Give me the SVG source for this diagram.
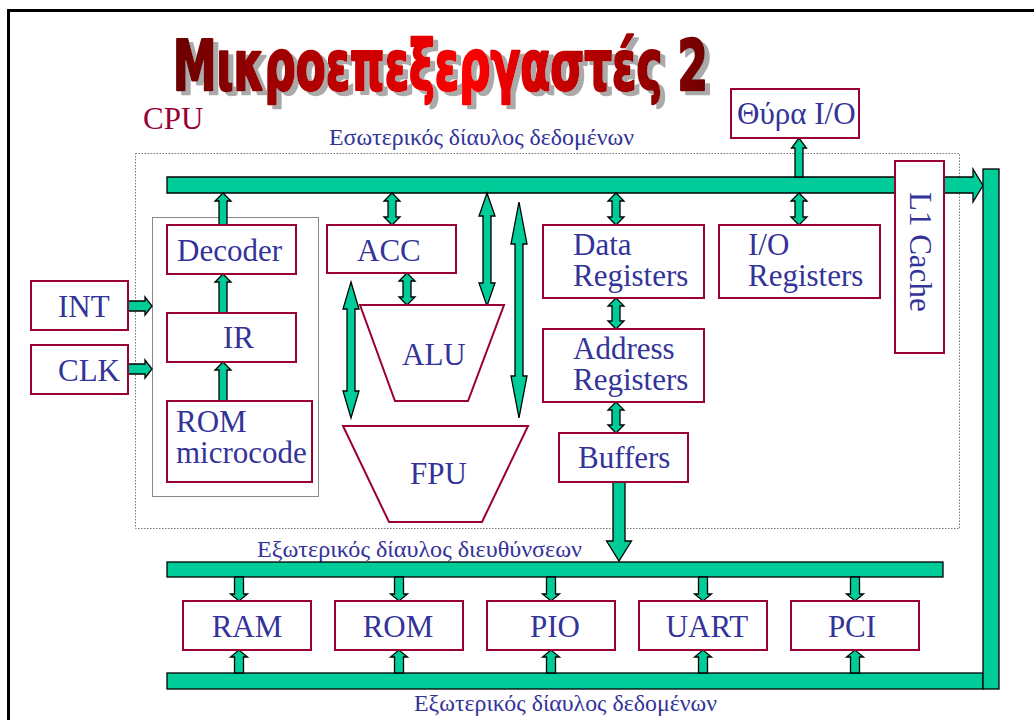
<svg xmlns="http://www.w3.org/2000/svg" width="1034" height="720" viewBox="0 0 1034 720">
  <defs>
    <linearGradient id="titleGrad" gradientUnits="userSpaceOnUse" x1="0" y1="0" x2="747" y2="0">
      <stop offset="0" stop-color="#6a0000"/>
      <stop offset="0.55" stop-color="#ff0000"/>
      <stop offset="1" stop-color="#700000"/>
    </linearGradient>
    <filter id="dropShadow" x="-5%" y="-20%" width="115%" height="150%">
      <feOffset in="SourceAlpha" dx="5" dy="4" result="off"/>
      <feFlood flood-color="#aaaaaa"/>
      <feComposite in2="off" operator="in" result="shadow"/>
      <feMerge>
        <feMergeNode in="shadow"/>
        <feMergeNode in="SourceGraphic"/>
      </feMerge>
    </filter>
    <style>
      .frame { fill: none; stroke: #000; stroke-width: 3; }
      .box { fill: #fff; stroke: #990033; stroke-width: 2; }
      .grp { fill: none; stroke: #888; stroke-width: 1; }
      .cpu { fill: none; stroke: #777; stroke-width: 1; stroke-dasharray: 1.5 1.5; }
      .bus, .arr { fill: #00cc99; stroke: #000; stroke-width: 1.3; stroke-linejoin: miter; }
      .lbl { font-family: "Liberation Serif", "Times New Roman", serif; font-size: 31px; fill: #333399; }
      .bl { font-family: "Liberation Serif", "Times New Roman", serif; font-size: 23px; fill: #333399; }
      .cpuTxt { font-family: "Liberation Serif", "Times New Roman", serif; font-size: 31px; fill: #990033; }
      .title { font-family: "DejaVu Sans Condensed", "Liberation Sans Narrow", "Liberation Sans", sans-serif; font-weight: bold; font-size: 69px; fill: url(#titleGrad); stroke: url(#titleGrad); stroke-width: 2.5; stroke-linejoin: round; }
    </style>
  </defs>

  <rect width="1034" height="720" fill="#fff"/>
  <rect class="frame" x="8.5" y="10.5" width="1040" height="730"/>

  <!-- heading: condensed bold type squeezed horizontally, with a grey drop shadow -->
  <g id="title" filter="url(#dropShadow)">
    <text class="title" transform="translate(173,90) scale(0.716,1)" x="0" y="0" textLength="747" lengthAdjust="spacingAndGlyphs">Μικροεπεξεργαστές 2</text>
  </g>

  <!-- processor outline and control-unit group -->
  <g id="cpu">
    <rect class="cpu" x="135.5" y="153.5" width="824" height="375"/>
    <text class="cpuTxt" x="143" y="129">CPU</text>
  </g>
  <rect id="control-unit" class="grp" x="152.5" y="217.5" width="166" height="279"/>

  <!-- bus labels -->
  <g id="bus-labels">
    <text class="bl" x="329" y="145" textLength="305" lengthAdjust="spacingAndGlyphs">Εσωτερικός δίαυλος δεδομένων</text>
    <text class="bl" x="257" y="557" textLength="325" lengthAdjust="spacingAndGlyphs">Εξωτερικός δίαυλος διευθύνσεων</text>
    <text class="bl" x="414" y="711" textLength="303" lengthAdjust="spacingAndGlyphs">Εξωτερικός δίαυλος δεδομένων</text>
  </g>

  <!-- buses and arrows -->
  <g id="connectors">
    <!-- internal data bus -->
    <polygon class="bus" points="167,177 973,177 973,169 983,185.5 973,202 973,193 167,193"/>
    <!-- external address bus -->
    <rect class="bus" x="167" y="562" width="776" height="15"/>
    <!-- external data bus with riser -->
    <rect class="bus" x="167" y="673" width="816" height="16"/>
    <rect class="bus" x="983" y="169" width="16" height="520"/>

    <!-- control unit -->
    <polygon class="arr" points="219,225 219,201 215,201 223,193 231,201 227,201 227,225"/>
    <polygon class="arr" points="219,313 219,282 215,282 223,274 231,282 227,282 227,313"/>
    <polygon class="arr" points="219,401 219,370 215,370 223,362 231,370 227,370 227,401"/>
    <!-- INT / CLK inputs -->
    <polygon class="arr" points="128,301 145,301 145,297 152,306 145,315 145,311 128,311"/>
    <polygon class="arr" points="128,364 145,364 145,360 152,369 145,378 145,374 128,374"/>

    <!-- ACC / ALU / FPU -->
    <polygon class="arr" points="392,193 400,201 396,201 396,217 400,217 392,225 384,217 388,217 388,201 384,201"/>
    <polygon class="arr" points="407,273 415,281 411,281 411,297 415,297 407,305 399,297 403,297 403,281 399,281"/>
    <polygon class="arr" points="487,193 495,216 491,216 491,283 495,283 487,306 479,283 483,283 483,216 479,216"/>
    <polygon class="arr" points="351,282 359,309 355,309 355,391 359,391 351,418 343,391 347,391 347,309 343,309"/>
    <polygon class="arr" points="519,202 527,244 523,244 523,376 527,376 519,418 511,376 515,376 515,244 511,244"/>

    <!-- register column -->
    <polygon class="arr" points="616,193 624,201 620,201 620,217 624,217 616,225 608,217 612,217 612,201 608,201"/>
    <polygon class="arr" points="616,298 624,306 620,306 620,321 624,321 616,329 608,321 612,321 612,306 608,306"/>
    <polygon class="arr" points="616,402 624,410 620,410 620,425 624,425 616,433 608,425 612,425 612,410 608,410"/>
    <polygon class="arr" points="613,482 613,541 606.5,541 619,561 631.5,541 625,541 625,482"/>

    <!-- I/O -->
    <polygon class="arr" points="799,193 807,201 803,201 803,217 807,217 799,225 791,217 795,217 795,201 791,201"/>
    <polygon class="arr" points="795,177 795,148 791.5,148 799,138 806.5,148 803,148 803,177"/>

    <!-- address bus to peripherals -->
    <polygon class="arr" points="234.5,577 234.5,594 230.5,594 239,601 247.5,594 243.5,594 243.5,577"/>
    <polygon class="arr" points="394.5,577 394.5,594 390.5,594 399,601 407.5,594 403.5,594 403.5,577"/>
    <polygon class="arr" points="546.5,577 546.5,594 542.5,594 551,601 559.5,594 555.5,594 555.5,577"/>
    <polygon class="arr" points="698.5,577 698.5,594 694.5,594 703,601 711.5,594 707.5,594 707.5,577"/>
    <polygon class="arr" points="850.5,577 850.5,594 846.5,594 855,601 863.5,594 859.5,594 859.5,577"/>

    <!-- data bus to peripherals -->
    <polygon class="arr" points="234.5,673 234.5,657 230.5,657 239,650 247.5,657 243.5,657 243.5,673"/>
    <polygon class="arr" points="394.5,673 394.5,657 390.5,657 399,650 407.5,657 403.5,657 403.5,673"/>
    <polygon class="arr" points="546.5,673 546.5,657 542.5,657 551,650 559.5,657 555.5,657 555.5,673"/>
    <polygon class="arr" points="698.5,673 698.5,657 694.5,657 703,650 711.5,657 707.5,657 707.5,673"/>
    <polygon class="arr" points="850.5,673 850.5,657 846.5,657 855,650 863.5,657 859.5,657 859.5,673"/>
  </g>

  <!-- input signals -->
  <g id="int"><rect class="box" x="31" y="281" width="97" height="49"/><text class="lbl" x="58" y="317">INT</text></g>
  <g id="clk"><rect class="box" x="31" y="345" width="97" height="49"/><text class="lbl" x="58" y="381">CLK</text></g>

  <!-- control unit -->
  <g id="decoder"><rect class="box" x="167" y="225" width="129" height="49"/><text class="lbl" x="177" y="261">Decoder</text></g>
  <g id="ir"><rect class="box" x="167" y="313" width="129" height="49"/><text class="lbl" x="223" y="348">IR</text></g>
  <g id="rom-microcode"><rect class="box" x="167" y="401" width="145" height="81"/>
    <text class="lbl"><tspan x="176" y="432">ROM</tspan><tspan x="176" y="463">microcode</tspan></text></g>

  <!-- arithmetic -->
  <g id="acc"><rect class="box" x="327" y="225" width="129" height="48"/><text class="lbl" x="357" y="261">ACC</text></g>
  <g id="alu"><polygon class="box" points="360,305 504,305 468,401 395,401"/><text class="lbl" x="402" y="365">ALU</text></g>
  <g id="fpu"><polygon class="box" points="343,426 528,426 482,522 389,522"/><text class="lbl" x="410" y="484">FPU</text></g>

  <!-- registers -->
  <g id="data-registers"><rect class="box" x="543" y="225" width="161" height="73"/>
    <text class="lbl"><tspan x="573" y="255">Data</tspan><tspan x="573" y="286">Registers</tspan></text></g>
  <g id="address-registers"><rect class="box" x="543" y="329" width="161" height="73"/>
    <text class="lbl"><tspan x="573" y="359">Address</tspan><tspan x="573" y="390">Registers</tspan></text></g>
  <g id="buffers"><rect class="box" x="559" y="433" width="129" height="49"/><text class="lbl" x="578" y="468">Buffers</text></g>
  <g id="io-registers"><rect class="box" x="719" y="225" width="161" height="73"/>
    <text class="lbl"><tspan x="748" y="255">I/O</tspan><tspan x="748" y="286">Registers</tspan></text></g>

  <!-- cache and port -->
  <g id="l1-cache"><rect class="box" x="895" y="161" width="49" height="192"/>
    <text class="lbl" transform="translate(910,192) rotate(90)">L1 Cache</text></g>
  <g id="io-port"><rect class="box" x="731" y="89" width="128" height="49"/><text class="lbl" x="737" y="124">Θύρα I/O</text></g>

  <!-- peripherals -->
  <g id="ram"><rect class="box" x="183" y="601" width="128" height="49"/><text class="lbl" x="247" y="637" text-anchor="middle">RAM</text></g>
  <g id="rom"><rect class="box" x="335" y="601" width="128" height="49"/><text class="lbl" x="398" y="637" text-anchor="middle">ROM</text></g>
  <g id="pio"><rect class="box" x="487" y="601" width="128" height="49"/><text class="lbl" x="555" y="637" text-anchor="middle">PIO</text></g>
  <g id="uart"><rect class="box" x="639" y="601" width="128" height="49"/><text class="lbl" x="707" y="637" text-anchor="middle">UART</text></g>
  <g id="pci"><rect class="box" x="791" y="601" width="128" height="49"/><text class="lbl" x="852" y="637" text-anchor="middle">PCI</text></g>
</svg>
